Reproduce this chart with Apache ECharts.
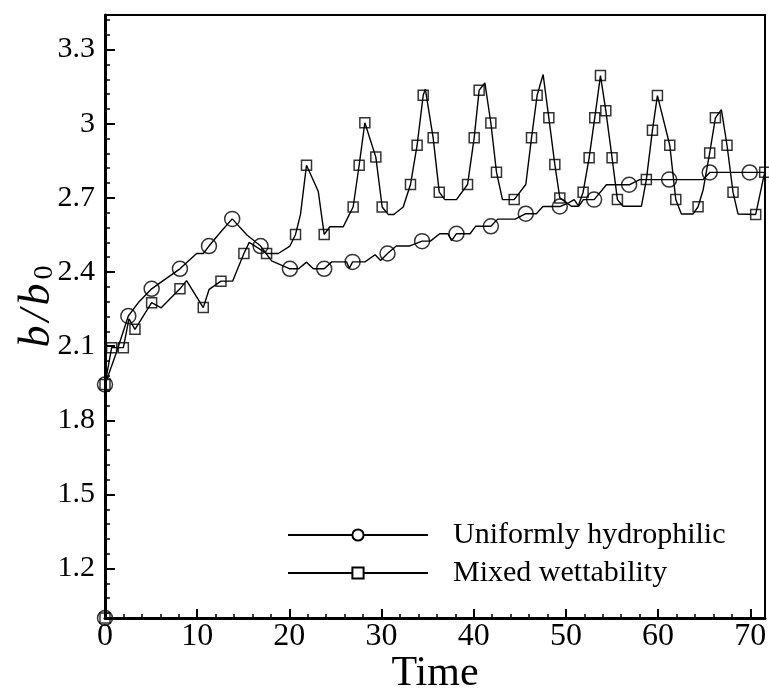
<!DOCTYPE html>
<html><head><meta charset="utf-8">
<script src="https://cdn.jsdelivr.net/npm/echarts@6/dist/echarts.min.js"></script>
<style>html,body{margin:0;padding:0;background:#fff}#c{width:769px;height:693px}</style>
</head><body><div id="c"></div>
<script>
// Uniformly hydrophilic: marker points
const uniMarkT = [0, 0, 2.53, 5.06, 8.13, 11.28, 13.8, 16.88, 20.06, 23.78, 26.86, 30.65, 34.4, 38.13, 41.86, 45.65, 49.34, 53.06, 56.86, 61.2, 65.6, 69.94];
const uniMarkY = [1.0, 1.945, 2.222, 2.332, 2.413, 2.505, 2.615, 2.505, 2.413, 2.413, 2.441, 2.475, 2.525, 2.555, 2.585, 2.636, 2.665, 2.693, 2.753, 2.774, 2.803, 2.803];
// Uniformly hydrophilic: line-only points
const uniLineT = [1.2, 3.7, 6.5, 9.94, 10.66, 12.5, 15.4, 18.07, 21.0, 21.87, 22.6, 24.6, 26.2, 26.5, 28.2, 29.3, 29.9, 31.6, 33.0, 35.3, 36.3, 37.2, 37.6, 39.6, 40.2, 42.6, 44.5, 46.8, 47.5, 48.6, 50.3, 50.9, 51.4, 51.9, 54.4, 58.0, 64.9, 71.6];
const uniLineY = [2.07, 2.28, 2.37, 2.475, 2.475, 2.56, 2.55, 2.445, 2.413, 2.44, 2.413, 2.441, 2.441, 2.415, 2.441, 2.47, 2.447, 2.505, 2.505, 2.525, 2.555, 2.555, 2.527, 2.555, 2.585, 2.614, 2.614, 2.636, 2.665, 2.665, 2.68, 2.693, 2.666, 2.693, 2.753, 2.774, 2.774, 2.803];
// Mixed wettability: marker points
const mixMarkT = [0, 0, 0.72, 1.99, 3.25, 5.06, 8.13, 10.66, 12.58, 15.07, 17.53, 20.67, 21.86, 23.78, 26.92, 27.57, 28.19, 29.38, 30.07, 33.14, 33.86, 34.52, 35.6, 36.26, 39.33, 40.05, 40.59, 41.86, 42.47, 44.39, 46.27, 46.88, 48.15, 48.8, 49.34, 51.87, 52.52, 53.13, 53.75, 54.33, 55.01, 55.59, 58.73, 59.39, 59.93, 61.27, 61.92, 64.34, 65.6, 66.22, 67.48, 68.13, 70.59, 71.57];
const mixMarkY = [1.0, 1.945, 2.094, 2.094, 2.168, 2.276, 2.332, 2.256, 2.363, 2.475, 2.475, 2.552, 2.832, 2.552, 2.663, 2.832, 3.004, 2.865, 2.663, 2.754, 2.913, 3.115, 2.943, 2.723, 2.754, 2.943, 3.136, 3.003, 2.804, 2.693, 2.943, 3.115, 3.024, 2.835, 2.70, 2.723, 2.862, 3.024, 3.195, 3.053, 2.862, 2.693, 2.774, 2.974, 3.114, 2.913, 2.693, 2.664, 2.882, 3.024, 2.913, 2.723, 2.633, 2.804];
// Mixed wettability: line-only points
const mixLineT = [2.6, 6.1, 8.85, 11.3, 13.84, 15.65, 18.8, 20.06, 21.21, 23.13, 24.4, 25.85, 26.4, 30.72, 31.33, 32.35, 34.75, 36.87, 38.13, 41.21, 43.12, 45.65, 47.53, 50.6, 51.33, 56.2, 58.19, 62.53, 63.8, 64.9, 66.87, 68.67];
const mixLineY = [2.21, 2.255, 2.365, 2.33, 2.363, 2.52, 2.475, 2.505, 2.633, 2.727, 2.583, 2.583, 2.625, 2.633, 2.633, 2.663, 3.14, 2.693, 2.693, 3.165, 2.693, 2.754, 3.199, 2.666, 2.666, 2.666, 2.666, 2.635, 2.635, 2.734, 3.057, 2.635];

const seriesNames = ['Uniformly hydrophilic', 'Mixed wettability'];
const xTitle = 'Time';

function pairs(t, y) { return t.map((v, i) => [v, y[i]]); }
function merged(t1, y1, t2, y2) {
  const p = pairs(t1, y1).concat(pairs(t2, y2));
  p.sort((a, b) => a[0] - b[0]);
  return p;
}

const FONT = 'Liberation Serif';
const chart = echarts.init(document.getElementById('c'), null, {renderer: 'canvas'});
const lineBase = {
  type: 'line', showSymbol: false, color: '#000', z: 3, animation: false,
  lineStyle: {color: '#000', width: 1.4}, emphasis: {disabled: true}
};
const markBase = {
  type: 'scatter', clip: false, z: 4, animation: false, emphasis: {disabled: true},
  itemStyle: {color: 'rgba(0,0,0,0)', borderColor: '#000', borderWidth: 1.5}
};
chart.setOption({
  animation: false,
  backgroundColor: '#fff',
  grid: {left: 105, right: 4, top: 15, bottom: 75, show: true, borderColor: '#000', borderWidth: 2,
    backgroundColor: 'transparent', outerBoundsMode: 'none', containLabel: false},
  legend: {
    orient: 'vertical', left: 282, top: 515,
    itemWidth: 140, itemHeight: 14, itemGap: 8,
    data: seriesNames,
    textStyle: {fontFamily: FONT, fontSize: 30, lineHeight: 30, color: '#000', padding: [0, 0, 0, 20]}
  },
  xAxis: {
    type: 'value', min: 0, max: 71.6, splitNumber: 7,
    name: xTitle, nameLocation: 'middle', nameGap: 35, nameMoveOverlap: false,
    nameTextStyle: {fontFamily: FONT, fontSize: 42, color: '#000'},
    axisLine: {show: true, lineStyle: {color: '#000', width: 3}},
    axisTick: {show: true, inside: true, length: 9, lineStyle: {color: '#000', width: 2}},
    minorTick: {show: true, splitNumber: 5, length: 4, lineStyle: {color: '#000', width: 1.5}},
    splitLine: {show: false},
    axisLabel: {fontFamily: FONT, fontSize: 32, color: '#000', margin: 3, showMaxLabel: false, showMinLabel: true}
  },
  yAxis: {
    type: 'value', min: 1.0, max: 3.44, splitNumber: 8,
    name: '{i|b}{i|/}{i|b}{s|0}', nameLocation: 'middle', nameGap: 46, nameRotate: 90, nameMoveOverlap: false,
    nameTextStyle: {
      color: '#000', padding: [0, 0, 0, 18],
      rich: {
        i: {fontFamily: FONT, fontStyle: 'italic', fontSize: 44, lineHeight: 44, verticalAlign: 'bottom', color: '#000', padding: [0, 2, 0, 2]},
        s: {fontFamily: FONT, fontSize: 28, lineHeight: 16, verticalAlign: 'bottom', color: '#000', padding: [0, 0, 0, 2]}
      }
    },
    axisLine: {show: true, lineStyle: {color: '#000', width: 3}},
    axisTick: {show: true, inside: true, length: 10, lineStyle: {color: '#000', width: 2}},
    minorTick: {show: true, splitNumber: 5, length: 5, lineStyle: {color: '#000', width: 1.5}},
    splitLine: {show: false},
    axisLabel: {fontFamily: FONT, fontSize: 30, color: '#000', margin: 10, showMinLabel: false, showMaxLabel: false,
      formatter: v => String(+v.toFixed(2))}
  },
  series: [
    Object.assign({}, lineBase, {name: seriesNames[0], symbol: 'emptyCircle', data: merged(uniMarkT, uniMarkY, uniLineT, uniLineY)}),
    Object.assign({}, markBase, {name: seriesNames[0], symbol: 'circle', symbolSize: 15, data: pairs(uniMarkT, uniMarkY)}),
    Object.assign({}, lineBase, {name: seriesNames[1], symbol: 'emptyRect', data: merged(mixMarkT, mixMarkY, mixLineT, mixLineY)}),
    Object.assign({}, markBase, {name: seriesNames[1], symbol: 'rect', symbolSize: 10, data: pairs(mixMarkT, mixMarkY)})
  ]
});
</script></body></html>
